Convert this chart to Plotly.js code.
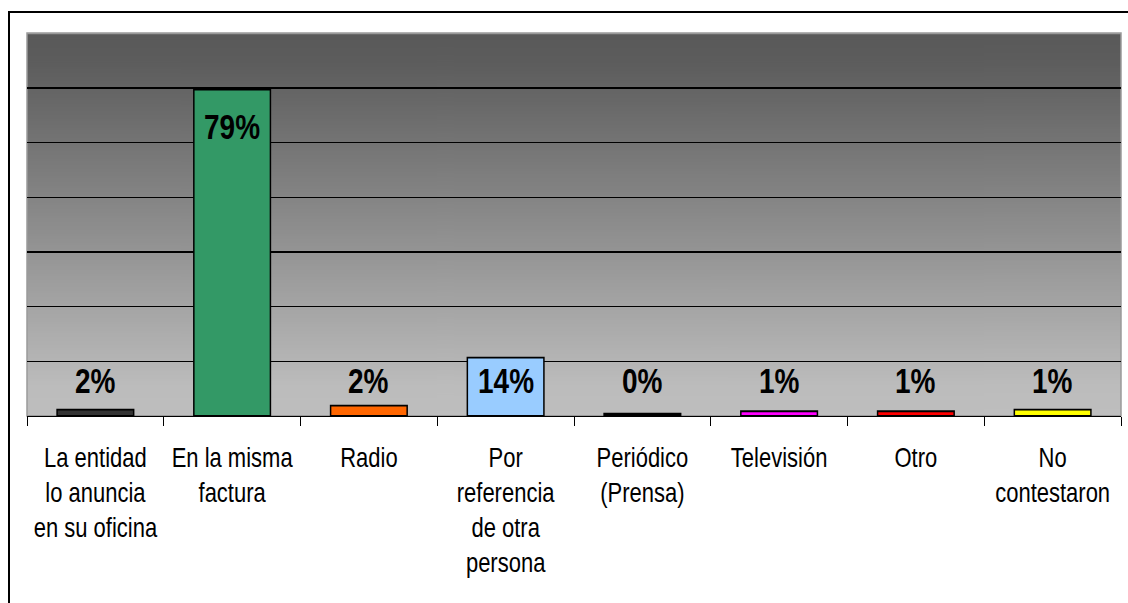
<!DOCTYPE html>
<html>
<head>
<meta charset="utf-8">
<script src="https://cdn.plot.ly/plotly-3.0.1.min.js"></script>
<style>
  html, body { margin: 0; padding: 0; width: 1128px; height: 603px; overflow: hidden; background: #fff; }
  #frame { position: absolute; left: 8px; top: 11px; width: 1300px; height: 800px; border: 2px solid #000; box-sizing: border-box; }
  #chart { position: absolute; left: 0; top: 0; width: 1128px; height: 490px; transform-origin: 0 0; transform: scaleY(1.2306); }
</style>
</head>
<body>
<div id="frame"></div>
<div id="chart"></div>
<script>
// Data
const categories = [
  "La entidad<br>lo anuncia<br>en su oficina",
  "En la misma<br>factura",
  "Radio",
  "Por<br>referencia<br>de otra<br>persona",
  "Periódico<br>(Prensa)",
  "Televisión",
  "Otro",
  "No<br>contestaron"
];
const values = [5.8, 298.5, 9.4, 53.4, 2.1, 4.3, 4.3, 5.8];
const labels = ["2%", "79%", "2%", "14%", "0%", "1%", "1%", "1%"];
const barColors = ["#333333", "#339966", "#FF6600", "#99CCFF", "#000000", "#FF00FF", "#FF0000", "#FFFF00"];

// Gradient background image
function gradientURL() {
  const c = document.createElement('canvas');
  c.width = 4; c.height = 400;
  const ctx = c.getContext('2d');
  const g = ctx.createLinearGradient(0, 0, 0, 400);
  g.addColorStop(0, '#595959');
  g.addColorStop(0.08, '#5d5d5d');
  g.addColorStop(0.92, '#bcbcbc');
  g.addColorStop(1, '#bebebe');
  ctx.fillStyle = g;
  ctx.fillRect(0, 0, 4, 400);
  return c.toDataURL('image/png');
}

const trace = {
  type: 'bar',
  x: categories,
  y: values,
  marker: { color: barColors, line: { color: '#000', width: 1.5 } },
  hoverinfo: 'none',
  cliponaxis: false
};

const annotations = values.map((v, i) => ({
  x: categories[i],
  y: v > 100 ? v - 35 : 32,
  xref: 'x', yref: 'y',
  text: labels[i],
  showarrow: false,
  yanchor: 'middle',
  font: { family: 'Liberation Sans, Arial, sans-serif', size: 28, color: '#000', weight: 'bold' }
}));

const layout = {
  width: 1128,
  height: 490,
  margin: { l: 27, r: 7, t: 27, b: 152 },
  paper_bgcolor: 'rgba(0,0,0,0)',
  plot_bgcolor: 'rgba(0,0,0,0)',
  showlegend: false,
  bargap: 0.44,
  font: { family: 'Liberation Sans, Arial, sans-serif', size: 22, color: '#000' },
  xaxis: {
    type: 'category',
    showline: true, linecolor: '#000', linewidth: 1,
    ticks: 'outside', tickson: 'boundaries', ticklen: 7.5, tickcolor: '#000', tickwidth: 1,
    tickfont: { family: 'Liberation Sans, Arial, sans-serif', size: 22, color: '#000' },
    ticklabelstandoff: 14,
    tickangle: 0,
    showgrid: false,
    fixedrange: true
  },
  yaxis: {
    range: [0, 350], dtick: 50,
    showticklabels: false, showline: false, zeroline: false,
    showgrid: true, gridcolor: '#000', gridwidth: 1,
    ticks: '',
    fixedrange: true
  },
  images: [{
    source: gradientURL(),
    xref: 'paper', yref: 'paper', x: 0, y: 1, sizex: 1, sizey: 1,
    sizing: 'stretch', layer: 'below', xanchor: 'left', yanchor: 'top'
  }],
  shapes: [{
    type: 'rect', xref: 'paper', yref: 'paper', x0: 0, x1: 1, y0: 0, y1: 1,
    line: { color: '#9a9a9a', width: 1.5 }, layer: 'below'
  }],
  annotations: annotations
};

Plotly.newPlot('chart', [trace], layout, { staticPlot: true, displayModeBar: false });
</script>
</body>
</html>
